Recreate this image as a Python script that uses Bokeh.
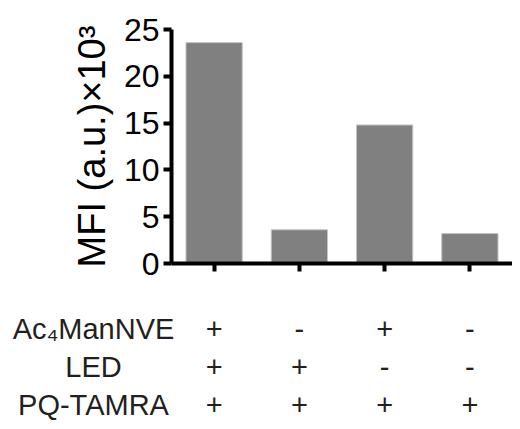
from bokeh.plotting import figure
from bokeh.layouts import column
from bokeh.models import ColumnDataSource, FactorRange, Range1d, FixedTicker, Title
from bokeh.core.properties import value
from bokeh.embed import file_html
from bokeh.resources import INLINE

# ---- data ----
groups = ["c1", "c2", "c3", "c4"]
mfi = [23.6, 3.6, 14.8, 3.2]
y_ticks = [0, 5, 10, 15, 20, 25]
row_names = ["Ac\u2084ManNVE", "LED", "PQ-TAMRA"]
ac4mannve = ["+", "-", "+", "-"]
led = ["+", "+", "-", "-"]
pq_tamra = ["+", "+", "+", "+"]
y_label = "MFI (a.u.)\u00d710\u00b3"

FONT = "Liberation Sans"
TXT = "#231f20"

# ---- layout constants ----
W = 512
LEFT = 171
TOP_H = 285
BOT_H = 421 - TOP_H
ROW0 = 43       # first table row centre, px from table top
ROW_GAP = 38    # px between table rows

# ---- chart ----
p = figure(width=W, height=TOP_H, x_range=FactorRange(*groups, range_padding=0),
           y_range=Range1d(0, 25), output_backend="svg", toolbar_location=None,
           min_border_left=LEFT, min_border_right=0, min_border_top=29, min_border_bottom=22)
p.frame_align = False
p.outline_line_color = None
p.xgrid.visible = False
p.ygrid.visible = False

src = ColumnDataSource(dict(g=groups, v=mfi))
p.vbar(x="g", top="v", width=0.66, source=src, fill_color="#808080",
       line_color="#c4c4c4", line_width=1)

ya = p.yaxis[0]
ya.ticker = FixedTicker(ticks=y_ticks)
ya.axis_line_width = 4
ya.major_tick_line_width = 4
ya.major_tick_out = 8
ya.major_tick_in = 0
ya.minor_tick_line_color = None
ya.major_label_text_font = FONT
ya.major_label_text_font_size = "32px"
ya.major_label_text_color = "black"
ya.major_label_standoff = 4

# y-axis title, shifted slightly upward like the reference
p.add_layout(Title(text=y_label, align="center", offset=13, standoff=15,
                   text_font=FONT, text_font_size="38px", text_font_style="normal",
                   text_color="black"), "left")

xa = p.xaxis[0]
xa.axis_line_width = 4
xa.major_tick_line_width = 4
xa.major_tick_out = 8
xa.major_tick_in = 0
xa.major_label_text_color = None
xa.major_label_text_font_size = "10px"
xa.major_label_standoff = 0

# ---- treatment table ----
n = len(groups)
cat_w = (W - LEFT) / n
t = figure(width=W, height=BOT_H, x_range=Range1d(-LEFT / cat_w, n),
           y_range=Range1d((BOT_H - ROW0) / ROW_GAP, -ROW0 / ROW_GAP),
           output_backend="svg", toolbar_location=None,
           min_border_left=0, min_border_right=0, min_border_top=0, min_border_bottom=0)
t.frame_align = False
t.axis.visible = False
t.grid.visible = False
t.outline_line_color = None

rows = [ac4mannve, led, pq_tamra]
sx, sy, st = [], [], []
for r, signs in enumerate(rows):
    for c, s in enumerate(signs):
        sx.append(c + 0.5)
        sy.append(r)
        st.append(s)
t.text(x=sx, y=sy, text=st, text_font=value(FONT), text_font_size="29px",
       text_color=TXT, text_align="center", text_baseline="middle")

label_x = (93 - LEFT) / cat_w
t.text(x=[label_x] * len(row_names), y=list(range(len(row_names))), text=row_names,
       text_font=value(FONT), text_font_size="29px", text_color=TXT,
       text_align="center", text_baseline="middle")

layout = column(p, t, spacing=0)
open("out.html", "w").write(file_html(layout, INLINE))
